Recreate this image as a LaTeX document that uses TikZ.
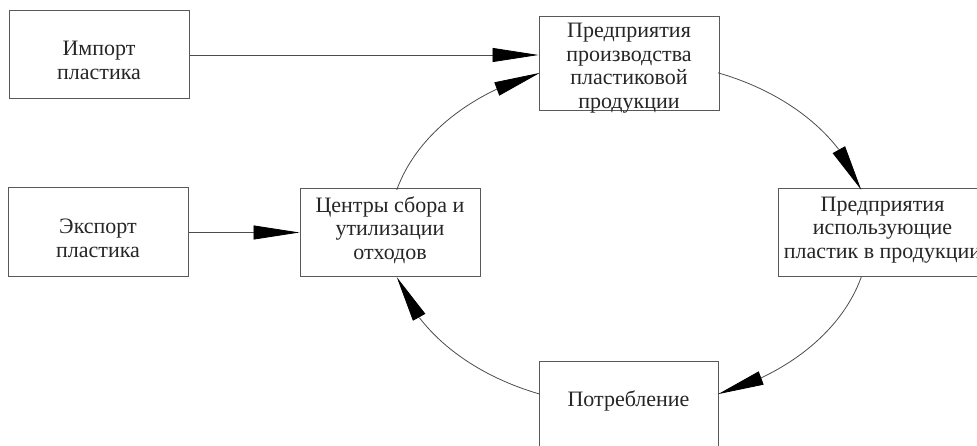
\documentclass[tikz,border=0pt]{standalone}
\usepackage{fontspec}
\setmainfont{Liberation Serif}
\usetikzlibrary{arrows.meta,bending}
\begin{document}
\begin{tikzpicture}[x=1pt,y=1pt,
  box/.style={draw=black!65, line width=1pt, fill=white, align=center, inner sep=0pt,
    font=\fontsize{22}{23.5}\selectfont, text=black!85},
  arr/.style={draw=black!70, line width=0.8pt, -{Triangle[length=46pt,width=14pt,flex,color=black]}}]
\clip (0,0) rectangle (977,446);
\node[box, minimum width=180pt, minimum height=88pt, text height=59pt, text depth=10pt] (imp) at (99,391) {Импорт\\пластика};
\node[box, minimum width=180pt, minimum height=89pt, text height=60pt, text depth=10pt] (exp) at (98,213.5) {Экспорт\\пластика};
\node[box, minimum width=180pt, minimum height=88pt, text height=63pt, text depth=10pt] (cen) at (390,213) {Центры сбора и\\утилизации\\отходов};
\node[box, minimum width=180pt, minimum height=94pt, text height=91pt, text depth=2pt] (top) at (629,382) {Предприятия\\производства\\пластиковой\\продукции};
\node[box, minimum width=209pt, minimum height=88pt, text height=61pt, text depth=10pt] (rgt) at (882.5,213) {Предприятия\\использующие\\пластик в продукции};
\node[box, minimum width=179pt, minimum height=88pt, text height=20pt, text depth=18pt] (bot) at (628.5,40) {Потребление};
\coordinate (C) at (629,212.5);
\path (C) ++(165.4:240pt and 173pt) coordinate (s1);
\path (C) ++(68.2:240pt and 173pt) coordinate (s2);
\path (C) ++(-14.6:240pt and 173pt) coordinate (s3);
\path (C) ++(-111.8:240pt and 173pt) coordinate (s4);
\draw[arr] (imp.east) -- (imp.east -| top.west);
\draw[arr] (exp.east) -- (exp.east -| cen.west);
\draw[arr] (s1) arc[start angle=165.4, end angle=111.8, x radius=240pt, y radius=173pt];
\draw[arr] (s2) arc[start angle=68.2, end angle=14.6, x radius=240pt, y radius=173pt];
\draw[arr] (s3) arc[start angle=-14.6, end angle=-68.2, x radius=240pt, y radius=173pt];
\draw[arr] (s4) arc[start angle=-111.8, end angle=-165.4, x radius=240pt, y radius=173pt];
\end{tikzpicture}
\end{document}
